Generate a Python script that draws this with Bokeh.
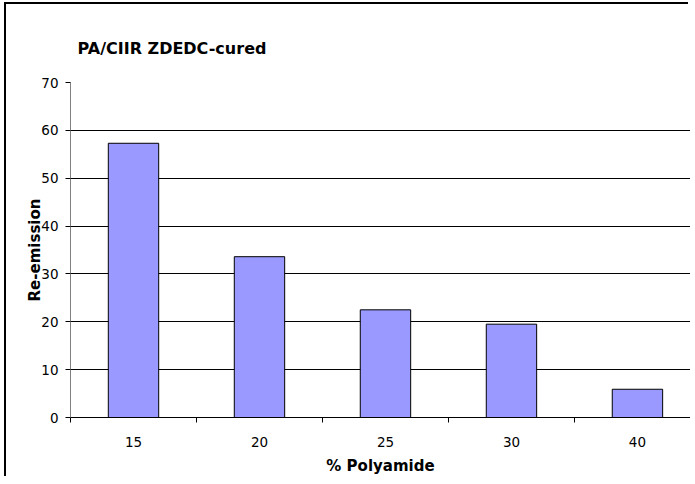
from bokeh.plotting import figure
from bokeh.models import FixedTicker, Range1d
from bokeh.embed import file_html
from bokeh.resources import INLINE

categories = ["15", "20", "25", "30", "40"]
values = [57.3, 33.6, 22.5, 19.5, 5.9]
y_ticks = [0, 10, 20, 30, 40, 50, 60, 70]

xpos = [i + 0.5 for i in range(len(categories))]

p = figure(width=684, height=474, x_range=Range1d(0, 4.921), y_range=Range1d(0, 70),
           output_backend="svg", toolbar_location=None,
           min_border_left=64, min_border_top=78, min_border_bottom=61, min_border_right=0)
p.styles = {"margin-left": "6px", "margin-top": "4px",
            "box-shadow": "-2px -2px 0px 0px #000000"}

p.vbar(x=xpos, top=values, width=0.4, bottom=0, fill_color="#9999FF",
       line_color="#000000", line_width=1)

p.outline_line_color = None
p.xgrid.visible = False
p.ygrid.ticker = FixedTicker(ticks=y_ticks)
p.ygrid.grid_line_color = "#000000"
p.ygrid.grid_line_width = 1

p.yaxis.ticker = FixedTicker(ticks=y_ticks)
p.yaxis.axis_line_color = "#808080"
p.yaxis.major_tick_line_color = "#000000"
p.yaxis.major_tick_out = 5
p.yaxis.major_tick_in = 0
p.yaxis.minor_tick_line_color = None
p.yaxis.major_label_standoff = 7
p.yaxis.axis_label = "Re-emission"
p.yaxis.axis_label_standoff = -6

p.xaxis.ticker = FixedTicker(ticks=xpos, minor_ticks=[0, 1, 2, 3, 4, 5])
p.xaxis.major_label_overrides = {x: c for x, c in zip(xpos, categories)}
p.xaxis.axis_line_color = "#000000"
p.xaxis.major_tick_out = 0
p.xaxis.major_tick_in = 0
p.xaxis.minor_tick_out = 5
p.xaxis.minor_tick_in = 0
p.xaxis.minor_tick_line_color = "#000000"
p.xaxis.major_label_standoff = 14
p.xaxis.axis_label = "% Polyamide"
p.xaxis.axis_label_standoff = 7

for ax in (p.xaxis[0], p.yaxis[0]):
    ax.major_label_text_font = "DejaVu Sans"
    ax.major_label_text_font_size = "13.5px"
    ax.major_label_text_color = "#000000"
    ax.axis_label_text_font = "DejaVu Sans"
    ax.axis_label_text_font_size = "15px"
    ax.axis_label_text_font_style = "bold"
    ax.axis_label_text_color = "#000000"

p.title.text = "PA/CIIR ZDEDC-cured"
p.title.align = "left"
p.title.offset = 7
p.title.standoff = 50
p.title.text_font = "DejaVu Sans"
p.title.text_font_size = "16px"
p.title.text_font_style = "bold"
p.title.text_color = "#000000"

open("out.html", "w").write(file_html(p, INLINE))
